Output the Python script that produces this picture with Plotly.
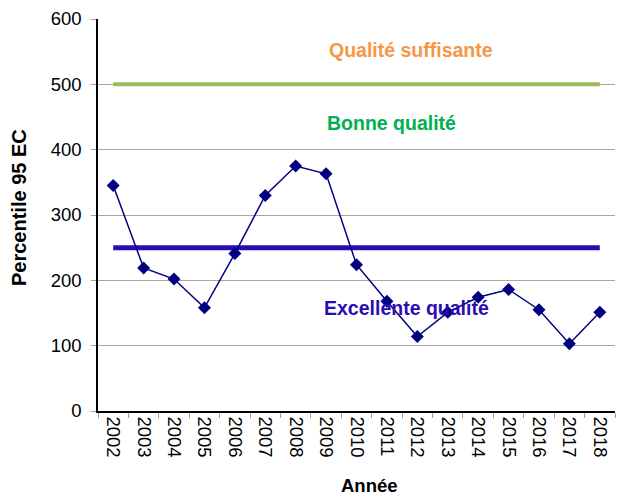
import plotly.graph_objects as go

annees = [str(a) for a in range(2002, 2019)]
percentile95 = [345, 219, 202, 158, 241, 330, 375, 363, 224, 168, 114, 151, 174, 186, 155, 103, 151]
seuil_suffisante = 500
seuil_excellente = 250

police = "Liberation Sans, Arial, sans-serif"

fig = go.Figure()

fig.add_trace(go.Scatter(x=[annees[0], annees[-1]], y=[seuil_suffisante] * 2, mode="lines",
                         line=dict(color="#9BBB59", width=4), hoverinfo="skip"))
fig.add_trace(go.Scatter(x=[annees[0], annees[-1]], y=[seuil_excellente] * 2, mode="lines",
                         line=dict(color="#2A0CB5", width=5), hoverinfo="skip"))
fig.add_trace(go.Scatter(x=annees, y=percentile95, mode="lines+markers",
                         line=dict(color="#000080", width=1.5),
                         marker=dict(symbol="diamond", size=10, color="#000080")))

fig.add_annotation(x=9.8, y=552, text="<b>Qualité suffisante</b>", showarrow=False,
                   font=dict(color="#F79646", size=19.5, family=police))
fig.add_annotation(x=9.15, y=441, text="<b>Bonne qualité</b>", showarrow=False,
                   font=dict(color="#00B050", size=19.5, family=police))
fig.add_annotation(x=9.64, y=158, text="<b>Excellente qualité</b>", showarrow=False,
                   font=dict(color="#2A0CB5", size=19.5, family=police))

# titres des axes
fig.add_annotation(xref="paper", yref="paper", x=0.526, y=0, yshift=-74, yanchor="middle",
                   text="<b>Année</b>", showarrow=False, font=dict(size=18.5, family=police))
fig.add_annotation(xref="paper", yref="paper", x=0, xshift=-79, y=0.5, yshift=7,
                   xanchor="center", textangle=-90,
                   text="<b>Percentile 95 EC</b>", showarrow=False, font=dict(size=20, family=police))

# la page ajoute 8 px de marge autour de la figure
fig.update_layout(
    width=618, height=489,
    margin=dict(l=90, r=11, t=11, b=86),
    plot_bgcolor="white", paper_bgcolor="white",
    showlegend=False,
    font=dict(family=police, color="black"),
)
fig.update_xaxes(type="category", categoryorder="array", categoryarray=annees,
                 range=[-0.5, len(annees) - 0.5],
                 tickangle=90, tickfont=dict(size=18.5), automargin=False,
                 showline=True, linecolor="black", linewidth=1.5,
                 ticks="outside", tickson="boundaries", ticklen=5, tickcolor="#A0A0A0")
fig.update_yaxes(range=[0, 600], dtick=100, tickfont=dict(size=18.5), automargin=False,
                 showgrid=True, gridcolor="#A6A6A6", gridwidth=1,
                 showline=True, linecolor="black", linewidth=1.5,
                 ticks="outside", ticklen=5, tickcolor="#A0A0A0", zeroline=False,
                 ticklabelstandoff=6)

fig.write_html("out.html")
